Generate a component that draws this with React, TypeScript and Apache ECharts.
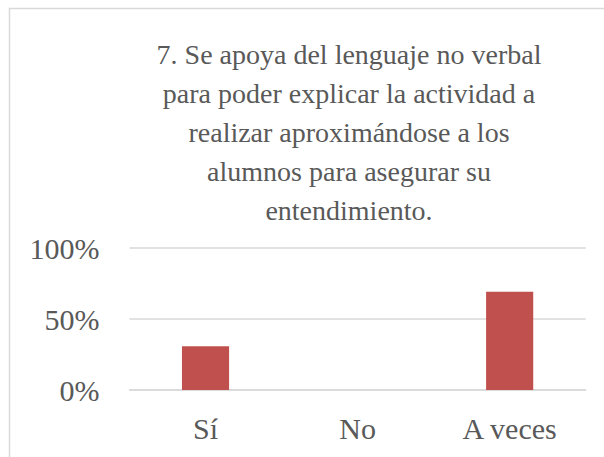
import React, { useEffect, useRef } from "react";
import * as echarts from "echarts";

const titleLines = [
  "7. Se apoya del lenguaje no verbal",
  "para poder explicar la actividad a",
  "realizar aproximándose a los",
  "alumnos para asegurar su",
  "entendimiento.",
];
const categories = ["Sí", "No", "A veces"];
const values = [30.77, 0, 69.23];
const yTicks = { min: 0, max: 100, interval: 50 };

const FONT = "'Times New Roman', 'Liberation Serif', serif";
const TEXT = "#595959";
const GRID = "#D9D9D9";
const BAR = "#C0504D";

export default function App() {
  const ref = useRef<HTMLDivElement>(null);
  useEffect(() => {
    if (!ref.current) return;
    const chart = echarts.init(ref.current, undefined, { renderer: "svg" });
    const titleGraphics = titleLines.map((line, i) => ({
      type: "text",
      x: 349,
      y: 54 + i * 39,
      silent: true,
      style: {
        text: line,
        fontFamily: FONT,
        fontSize: 28,
        fill: TEXT,
        textAlign: "center",
        textVerticalAlign: "middle",
      },
    }));
    chart.setOption({
      animation: false,
      backgroundColor: "#FFFFFF",
      textStyle: { fontFamily: FONT },
      graphic: [
        {
          type: "rect",
          shape: { x: 9.5, y: 8.5, width: 700, height: 600 },
          style: { fill: "none", stroke: GRID, lineWidth: 1.5 },
          silent: true,
          z: -1,
        },
        ...titleGraphics,
      ],
      grid: { left: 129.5, right: 18.3, top: 248, bottom: 67, containLabel: false },
      xAxis: {
        type: "category",
        data: categories,
        axisLine: { show: true, lineStyle: { color: GRID, width: 1.5 } },
        axisTick: { show: false },
        axisLabel: {
          fontFamily: FONT,
          fontSize: 30,
          color: TEXT,
          margin: 23,
        },
      },
      yAxis: {
        type: "value",
        min: yTicks.min,
        max: yTicks.max,
        interval: yTicks.interval,
        axisLine: { show: false },
        axisTick: { show: false },
        splitLine: { lineStyle: { color: GRID, width: 1.5 } },
        axisLabel: {
          fontFamily: FONT,
          fontSize: 30,
          color: TEXT,
          margin: 30,
          formatter: "{value}%",
        },
      },
      series: [
        {
          type: "bar",
          data: values,
          barWidth: "31%",
          itemStyle: { color: BAR },
        },
      ],
    });
    return () => chart.dispose();
  }, []);
  return (
    <div
      ref={ref}
      style={{ position: "absolute", left: 0, top: 0, width: 604, height: 457 }}
    />
  );
}
